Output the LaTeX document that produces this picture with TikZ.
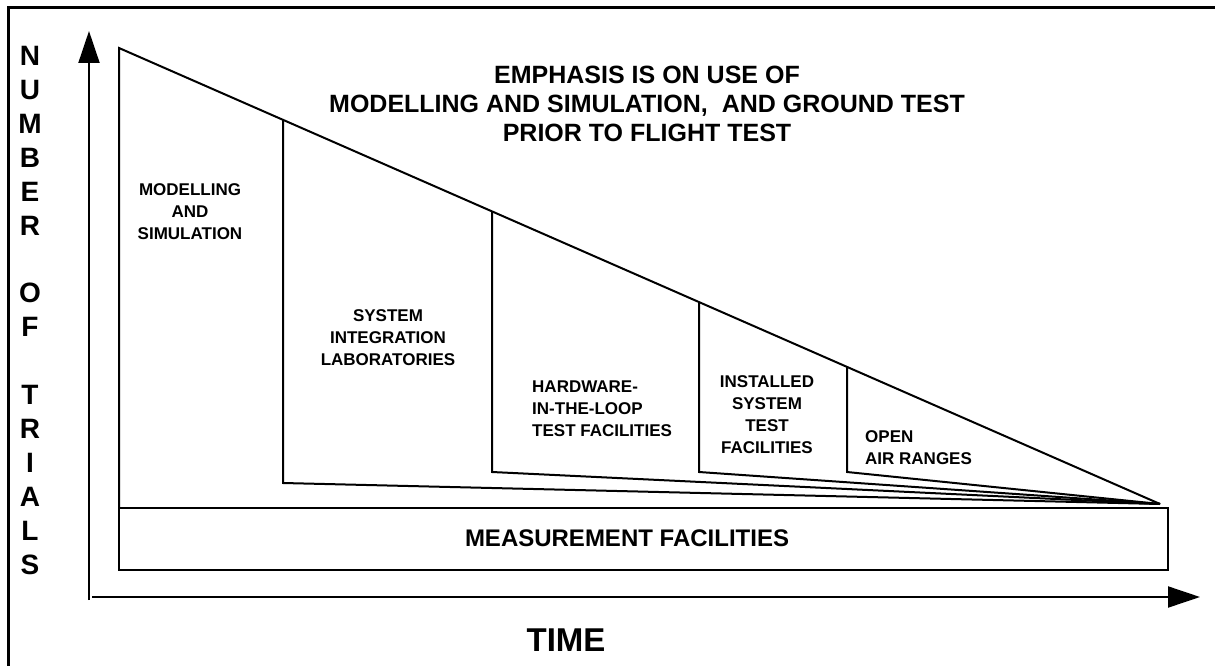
\documentclass[tikz,border=0pt]{standalone}
\usepackage{fontspec}
\setmainfont{Liberation Sans}
\usetikzlibrary{arrows.meta}
\begin{document}
\begin{tikzpicture}[x=1pt,y=-1pt,
  ln/.style={line width=2pt,line join=miter},
  lbl/.style={font=\bfseries\fontsize{17}{22}\selectfont,align=center,inner sep=0pt},
  lbll/.style={font=\bfseries\fontsize{17}{22}\selectfont,align=left,inner sep=0pt},
  ttl/.style={font=\bfseries\fontsize{25}{29}\selectfont,align=center,inner sep=0pt},
  ylet/.style={font=\bfseries\fontsize{28}{28}\selectfont,inner sep=0pt},
  axarrow/.style={line width=2pt,-{Triangle[length=32pt,width=21pt]}}]
\useasboundingbox (0,0) rectangle (1215,666);
% frame
\draw[line width=3pt] (8,670) -- (8,8) -- (1220,8);
% axes
\coordinate (yb) at (89,600);
\coordinate (yt) at (89,31);
\coordinate (xl) at (92,597);
\coordinate (xr) at (1200,597);
\draw[axarrow] (yb) -- (yt);
\draw[axarrow] (xl) -- (xr);
% triangle
\coordinate (T0) at (119,48);
\coordinate (A) at (1160,504);
\coordinate (B0) at (119,507);
\draw[ln] (B0) -- (T0) -- (A);
% measurement box
\node[draw,line width=2pt,minimum width=1049pt,minimum height=62pt,anchor=north west,inner sep=0pt] (mf) at (118,507) {};
\node[font=\bfseries\fontsize{24}{26}\selectfont,inner sep=0pt] (mft) at (627,538) {MEASUREMENT FACILITIES};
% verticals
\coordinate (t1) at (283,119.8);  \coordinate (b1) at (283,483);
\coordinate (t2) at (492,211.4);  \coordinate (b2) at (492,472);
\coordinate (t3) at (699,302.1);  \coordinate (b3) at (699,472);
\coordinate (t4) at (847,366.9);  \coordinate (b4) at (847,472);
\foreach \n in {1,2,3,4}{\draw[ln] (t\n) -- (b\n) -- (A);}
% region labels
\node[lbl] (l1) at (190,212) {MODELLING\\AND\\SIMULATION};
\node[lbl] (l2) at (388,338) {SYSTEM\\INTEGRATION\\LABORATORIES};
\node[lbll,anchor=west] (l3) at (532,409) {HARDWARE-\\IN-THE-LOOP\\TEST FACILITIES};
\node[lbl] (l4) at (767,415) {INSTALLED\\SYSTEM\\TEST\\FACILITIES};
\node[lbll,anchor=west] (l5) at (865,448) {OPEN\\AIR RANGES};
% title
\node[ttl] (title) at (647,104) {EMPHASIS IS ON USE OF\\MODELLING AND SIMULATION,\ \ AND GROUND TEST\\PRIOR TO FLIGHT TEST};
% time
\node[font=\bfseries\fontsize{33}{36}\selectfont,inner sep=0pt] (time) at (566,640) {TIME};
% y label
\foreach \ch/\k in {N/0,U/1,M/2,B/3,E/4,R/5,O/7,F/8,T/10,R/11,I/12,A/13,L/14,S/15}{
  \node[ylet] at (30,{56+33.9*\k}) {\ch};
}
\end{tikzpicture}
\end{document}
